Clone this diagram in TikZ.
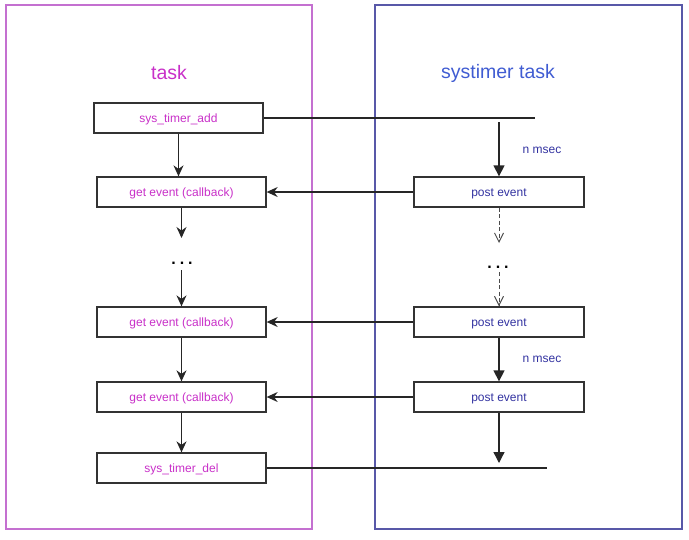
\documentclass[tikz,border=0pt]{standalone}
\usepackage{fontspec}
\setmainfont{Liberation Sans}
\usetikzlibrary{arrows.meta, positioning}
\definecolor{cTaskFrame}{RGB}{196,112,208}
\definecolor{cTaskText}{RGB}{200,48,200}
\definecolor{cSysFrame}{RGB}{88,88,168}
\definecolor{cSysTitle}{RGB}{64,92,210}
\definecolor{cSysText}{RGB}{50,50,160}
\tikzset{
	frame/.style    ={rectangle, draw, line width=1.4pt},
	title/.style    ={font=\fontsize{19.5}{22}\selectfont},
	taskstep/.style ={rectangle, draw=black!80, line width=1.3pt, minimum width=169pt, minimum height=30pt, inner sep=0pt, text height=10.5pt, text depth=2pt, text=cTaskText, font=\fontsize{12}{14}\selectfont},
	poststep/.style ={rectangle, draw=black!80, line width=1.3pt, minimum width=170pt, minimum height=30pt, inner sep=0pt, text height=10.5pt, text depth=2pt, text=cSysText, font=\fontsize{12}{14}\selectfont},
	dots/.style     ={font=\bfseries\fontsize{16}{18}\selectfont, inner sep=0pt},
	msec/.style     ={text=cSysText, font=\fontsize{12}{14}\selectfont, inner sep=0pt},
	flow/.style     ={-{Stealth[length=11pt, width=10pt]}, line width=1.3pt, black!85},
	tick/.style     ={-{Triangle[length=11pt, width=11pt]}, line width=1.3pt, black!85},
	later/.style    ={-{Straight Barb[length=9pt, width=9pt]}, line width=1pt, dash pattern=on 4pt off 2.5pt, black!70},
	msg/.style      ={-{Stealth[length=11pt, width=10pt]}, line width=1.3pt, black!85},
	wire/.style     ={line width=1.3pt, black!85},
}
\begin{document}
\begin{tikzpicture}[x=1pt, y=-1pt]
	\useasboundingbox (0,0) rectangle (689,539);
	% the two task frames
	\draw[frame, cTaskFrame] (6,5) rectangle (312,529);
	\draw[frame, cSysFrame] (375,5) rectangle (682,529);
	\node[title, text=cTaskText] (tasktitle) at (169,73) {task};
	\node[title, text=cSysTitle] (systitle) at (498,73) {systimer task};
	% task side
	\node[taskstep] (add) at (178.5,118) {sys\_timer\_add};
	\foreach \n/\y in {get1/192, get2/322, get3/397} {
		\node[taskstep] (\n) at (181.5,\y) {get event (callback)};
	}
	\node[taskstep] (del) at (181.5,468) {sys\_timer\_del};
	\node[dots] (tdots) at (182,263) {.\hspace{4pt}.\hspace{4pt}.};
	\coordinate (tgap1) at (181.5,238);
	\coordinate (tgap2) at (181.5,270);
	\draw[flow] (add) -- (add |- get1.north);
	\draw[flow] (get1) -- (tgap1);
	\draw[flow] (tgap2) -- (get2);
	\draw[flow] (get2) -- (get3);
	\draw[flow] (get3) -- (del);
	% systimer side
	\foreach \n/\y in {post1/192, post2/322, post3/397} {
		\node[poststep] (\n) at (499,\y) {post event};
	}
	\node[dots] (sdots) at (498,267) {.\hspace{4pt}.\hspace{4pt}.};
	\coordinate (addend) at (535,118);
	\coordinate (start) at (499,122);
	\coordinate (sgap1) at (499,243);
	\coordinate (sgap2) at (499,272);
	\coordinate (stop) at (499,463);
	\coordinate (delend) at (547,468);
	\draw[wire] (add) -- (addend);
	\draw[tick] (start) -- (post1);
	\node[msec] (msec1) at (542,150) {n msec};
	\draw[later] (post1) -- (sgap1);
	\draw[later] (sgap2) -- (post2);
	\draw[tick] (post2) -- (post3);
	\node[msec] (msec2) at (542,359) {n msec};
	\draw[tick] (post3) -- (stop);
	\draw[wire] (del) -- (delend);
	% events posted to the task
	\foreach \p/\g in {post1/get1, post2/get2, post3/get3} {
		\draw[msg] (\p) -- (\g);
	}
\end{tikzpicture}
\end{document}
